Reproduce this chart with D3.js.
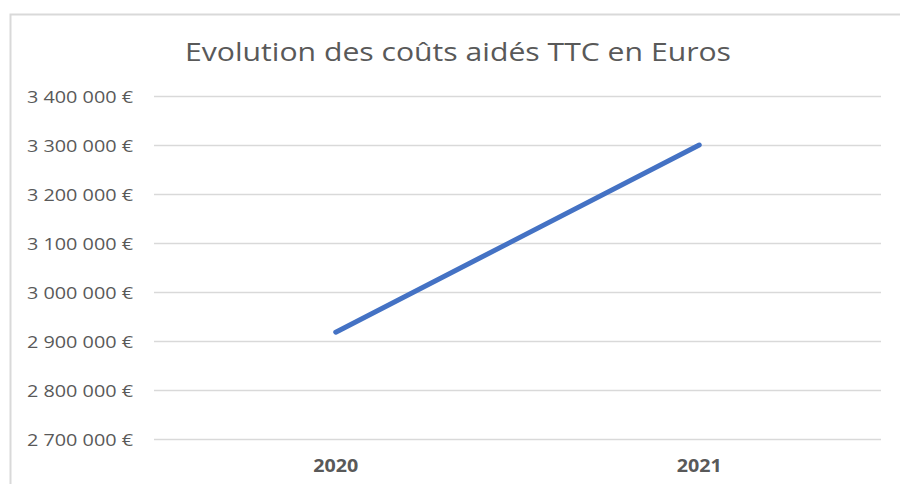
<!DOCTYPE html>
<meta charset="utf-8">
<style>
body { margin: 0; background: #fff; }
.tick text { font-family: "Open Sans", sans-serif; }
</style>
<svg width="900" height="484"></svg>
<script src="https://cdn.jsdelivr.net/npm/d3@7"></script>
<script>

var years = ["2020", "2021"];
var costs = [2918000, 3300000];
var yTicks = [2700000, 2800000, 2900000, 3000000, 3100000, 3200000, 3300000, 3400000];

var svg = d3.select("svg"),
    plotLeft = 154, plotRight = 881, plotTop = 96, plotBottom = 439;

// chart frame (only top and left edges visible)
svg.append("path")
    .attr("d", "M10.5,484 V14.5 H900")
    .attr("fill", "none")
    .attr("stroke", "#d9d9d9")
    .attr("stroke-width", 2);

svg.append("text")
    .attr("x", 185).attr("y", 61)
    .attr("textLength", 546)
    .attr("lengthAdjust", "spacingAndGlyphs")
    .style("font", "25px 'Open Sans', sans-serif")
    .attr("fill", "#595959")
    .text("Evolution des coûts aidés TTC en Euros");

var fr = d3.formatLocale({ decimal: ",", thousands: "\u00a0", grouping: [3], currency: ["", " €"] });

var x = d3.scaleBand().domain(years).range([plotLeft, plotRight]);
var y = d3.scaleLinear().domain([2700000, 3400000]).range([plotBottom, plotTop]);

var yAxis = svg.append("g")
    .attr("transform", "translate(" + plotLeft + ",0)")
    .call(d3.axisLeft(y).tickValues(yTicks).tickSize(-(plotRight - plotLeft)).tickPadding(21)
      .tickFormat(function(d) { return fr.format(",")(d) + "\u00a0€"; }));
yAxis.select(".domain").remove();
yAxis.selectAll(".tick line").attr("stroke", "#d9d9d9").attr("stroke-width", 1.5);
yAxis.selectAll(".tick text")
    .attr("fill", "#595959")
    .attr("dy", "0.4em")
    .attr("textLength", 106)
    .attr("lengthAdjust", "spacingAndGlyphs")
    .style("font-size", "16px");

var xAxis = svg.append("g")
    .attr("transform", "translate(0," + plotBottom + ")")
    .call(d3.axisBottom(x).tickSize(0).tickPadding(20));
xAxis.select(".domain").remove();
xAxis.selectAll(".tick text")
    .attr("fill", "#595959")
    .attr("textLength", 45)
    .attr("lengthAdjust", "spacingAndGlyphs")
    .style("font-size", "18px").style("font-weight", "bold");

var line = d3.line()
    .x(function(d, i) { return x(years[i]) + x.bandwidth() / 2; })
    .y(function(d) { return y(d); });

svg.append("path")
    .datum(costs)
    .attr("d", line)
    .attr("fill", "none")
    .attr("stroke", "#4472c4")
    .attr("stroke-width", 5)
    .attr("stroke-linecap", "round");

</script>
